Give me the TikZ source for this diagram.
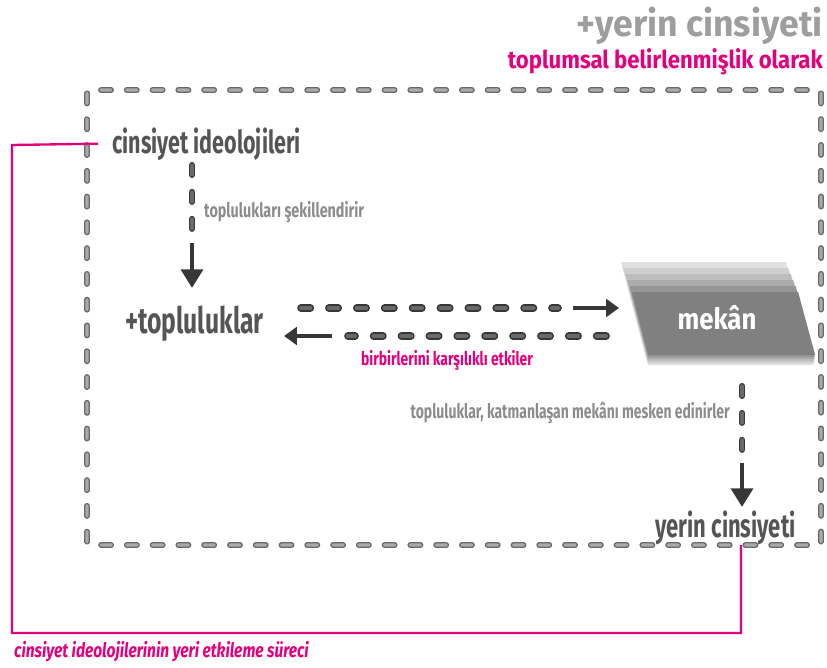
\documentclass[tikz,border=0pt]{standalone}
\usepackage{fontspec}
\usetikzlibrary{arrows.meta,positioning}

\newcommand\cf[2]{\fontspec{Fira Sans}[FakeStretch=#1]\bfseries\fontsize{#2}{#2}\selectfont}
\newcommand\cfi[2]{\fontspec{Fira Sans}[FakeStretch=#1]\bfseries\itshape\fontsize{#2}{#2}\selectfont}

\definecolor{rosepink}{RGB}{228,0,124}
\definecolor{titlegray}{RGB}{158,158,158}
\definecolor{darktext}{RGB}{85,85,85}
\definecolor{labelgray}{RGB}{140,140,140}
\definecolor{pilledge}{RGB}{55,55,55}
\definecolor{pillfill}{RGB}{105,105,105}
\definecolor{boxedge}{RGB}{105,105,105}
\definecolor{boxfill}{RGB}{170,170,170}

\tikzset{
  framedash/.style={draw=boxedge, double=boxfill, line width=1.1pt, double distance=2.9pt,
    line cap=round, dash pattern=on 8.5pt off 13.5pt},
  hpill/.style={draw=pilledge, double=pillfill, line width=1.4pt, double distance=3.7pt,
    line cap=round, dash pattern=on 8pt off 15.8pt},
  vpill/.style={draw=pilledge, double=pillfill, line width=1.2pt, double distance=2.8pt,
    line cap=round, dash pattern=on 8.5pt off 14.5pt},
  harrow/.style={draw=pilledge, line width=3.4pt, -{Triangle[length=11pt,width=15pt]}},
  varrow/.style={draw=pilledge, line width=4pt, -{Triangle[length=16pt,width=18.5pt]}},
  pinkpath/.style={draw=rosepink, line width=2pt},
  every node/.style={inner sep=0pt},
}

\begin{document}
\begin{tikzpicture}[x=0.03cm, y=-0.03cm]
  \useasboundingbox (0,0) rectangle (827,668);

  % heading
  \node[anchor=base east, text=titlegray, font=\cf{0.98}{31pt}] (head) at (823,36) {+yerin cinsiyeti};
  \node[anchor=base east, text=rosepink, font=\cf{0.9}{21pt}] (subhead) at (823,68) {toplumsal belirlenmişlik olarak};

  % frame
  \draw[framedash, rounded corners=3pt] (87,90) rectangle (821,545);

  % main terms
  \node[anchor=base west, text=darktext, font=\cf{0.68}{27pt}] (ideo) at (112,153) {cinsiyet ideolojileri};
  \node[anchor=base west, text=darktext, font=\cf{0.68}{31pt}] (topl) at (125,333) {+topluluklar};
  \node[anchor=base east, text=darktext, font=\cf{0.67}{28pt}] (yerin) at (796,537) {yerin cinsiyeti};

  % layered space
  \foreach \k/\sh in {0/12,1/19,2/26,3/33,4/41,5/50}{
    \pgfmathsetmacro\yt{262+6*\k}
    \pgfmathsetmacro\yb{365-2*\k}
    \pgfmathsetmacro\xtl{621+(\yt-262)*0.26+0.6*\k}
    \pgfmathsetmacro\xbl{621+(\yb-262)*0.26+0.6*\k}
    \pgfmathsetmacro\xtr{786+(\yt-262)*0.27+0.8*\k}
    \pgfmathsetmacro\xbr{786+(\yb-262)*0.27+0.8*\k}
    \fill[black!\sh] (\xtl,\yt) -- (\xtr,\yt) -- (\xbr,\yb) -- (\xbl,\yb) -- cycle;
  }
  \node[anchor=base, text=white, font=\cf{0.88}{25pt}] (mekan) at (717,329) {mekân};

  % labels
  \node[anchor=base west, text=labelgray, font=\cf{0.72}{17pt}] (shape) at (204,217) {toplulukları şekillendirir};
  \node[anchor=base, text=rosepink, font=\cf{0.74}{16pt}] (mutual) at (447,365) {birbirlerini karşılıklı etkiler};
  \node[anchor=base east, text=labelgray, font=\cf{0.7}{17pt}] (dwell) at (730,418) {topluluklar, katmanlaşan mekânı mesken edinirler};
  \node[anchor=base west, text=rosepink, font=\cfi{0.78}{17pt}] (proc) at (14,657) {cinsiyet ideolojilerinin yeri etkileme süreci};

  % arrow break points
  \coordinate (v1a) at (192,165);
  \coordinate (v1b) at (192,229);
  \coordinate (v1c) at (192,243);
  \coordinate (v1d) at (192,288);
  \coordinate (h1a) at (301,308);
  \coordinate (h1b) at (558,308);
  \coordinate (h1c) at (573,308);
  \coordinate (h1d) at (619,308);
  \coordinate (h2a) at (606,336);
  \coordinate (h2b) at (348,336);
  \coordinate (h2c) at (332,336);
  \coordinate (h2d) at (284,336);
  \coordinate (v2a) at (742,386);
  \coordinate (v2b) at (742,450);
  \coordinate (v2c) at (742,463);
  \coordinate (v2d) at (742,507);

  % ideologies shape communities
  \draw[vpill] (v1a) -- (v1b);
  \draw[varrow] (v1c) -- (v1d);

  % communities <-> space
  \draw[hpill] (h1a) -- (h1b);
  \draw[harrow] (h1c) -- (h1d);
  \draw[hpill] (h2a) -- (h2b);
  \draw[harrow] (h2c) -- (h2d);

  % space -> gender of place
  \draw[vpill] (v2a) -- (v2b);
  \draw[varrow] (v2c) -- (v2d);

  % feedback loop
  \draw[pinkpath] ([xshift=-12]ideo.west) -- (12,145) -- (12,633) -- (741,633) -- (741,545);
\end{tikzpicture}
\end{document}
